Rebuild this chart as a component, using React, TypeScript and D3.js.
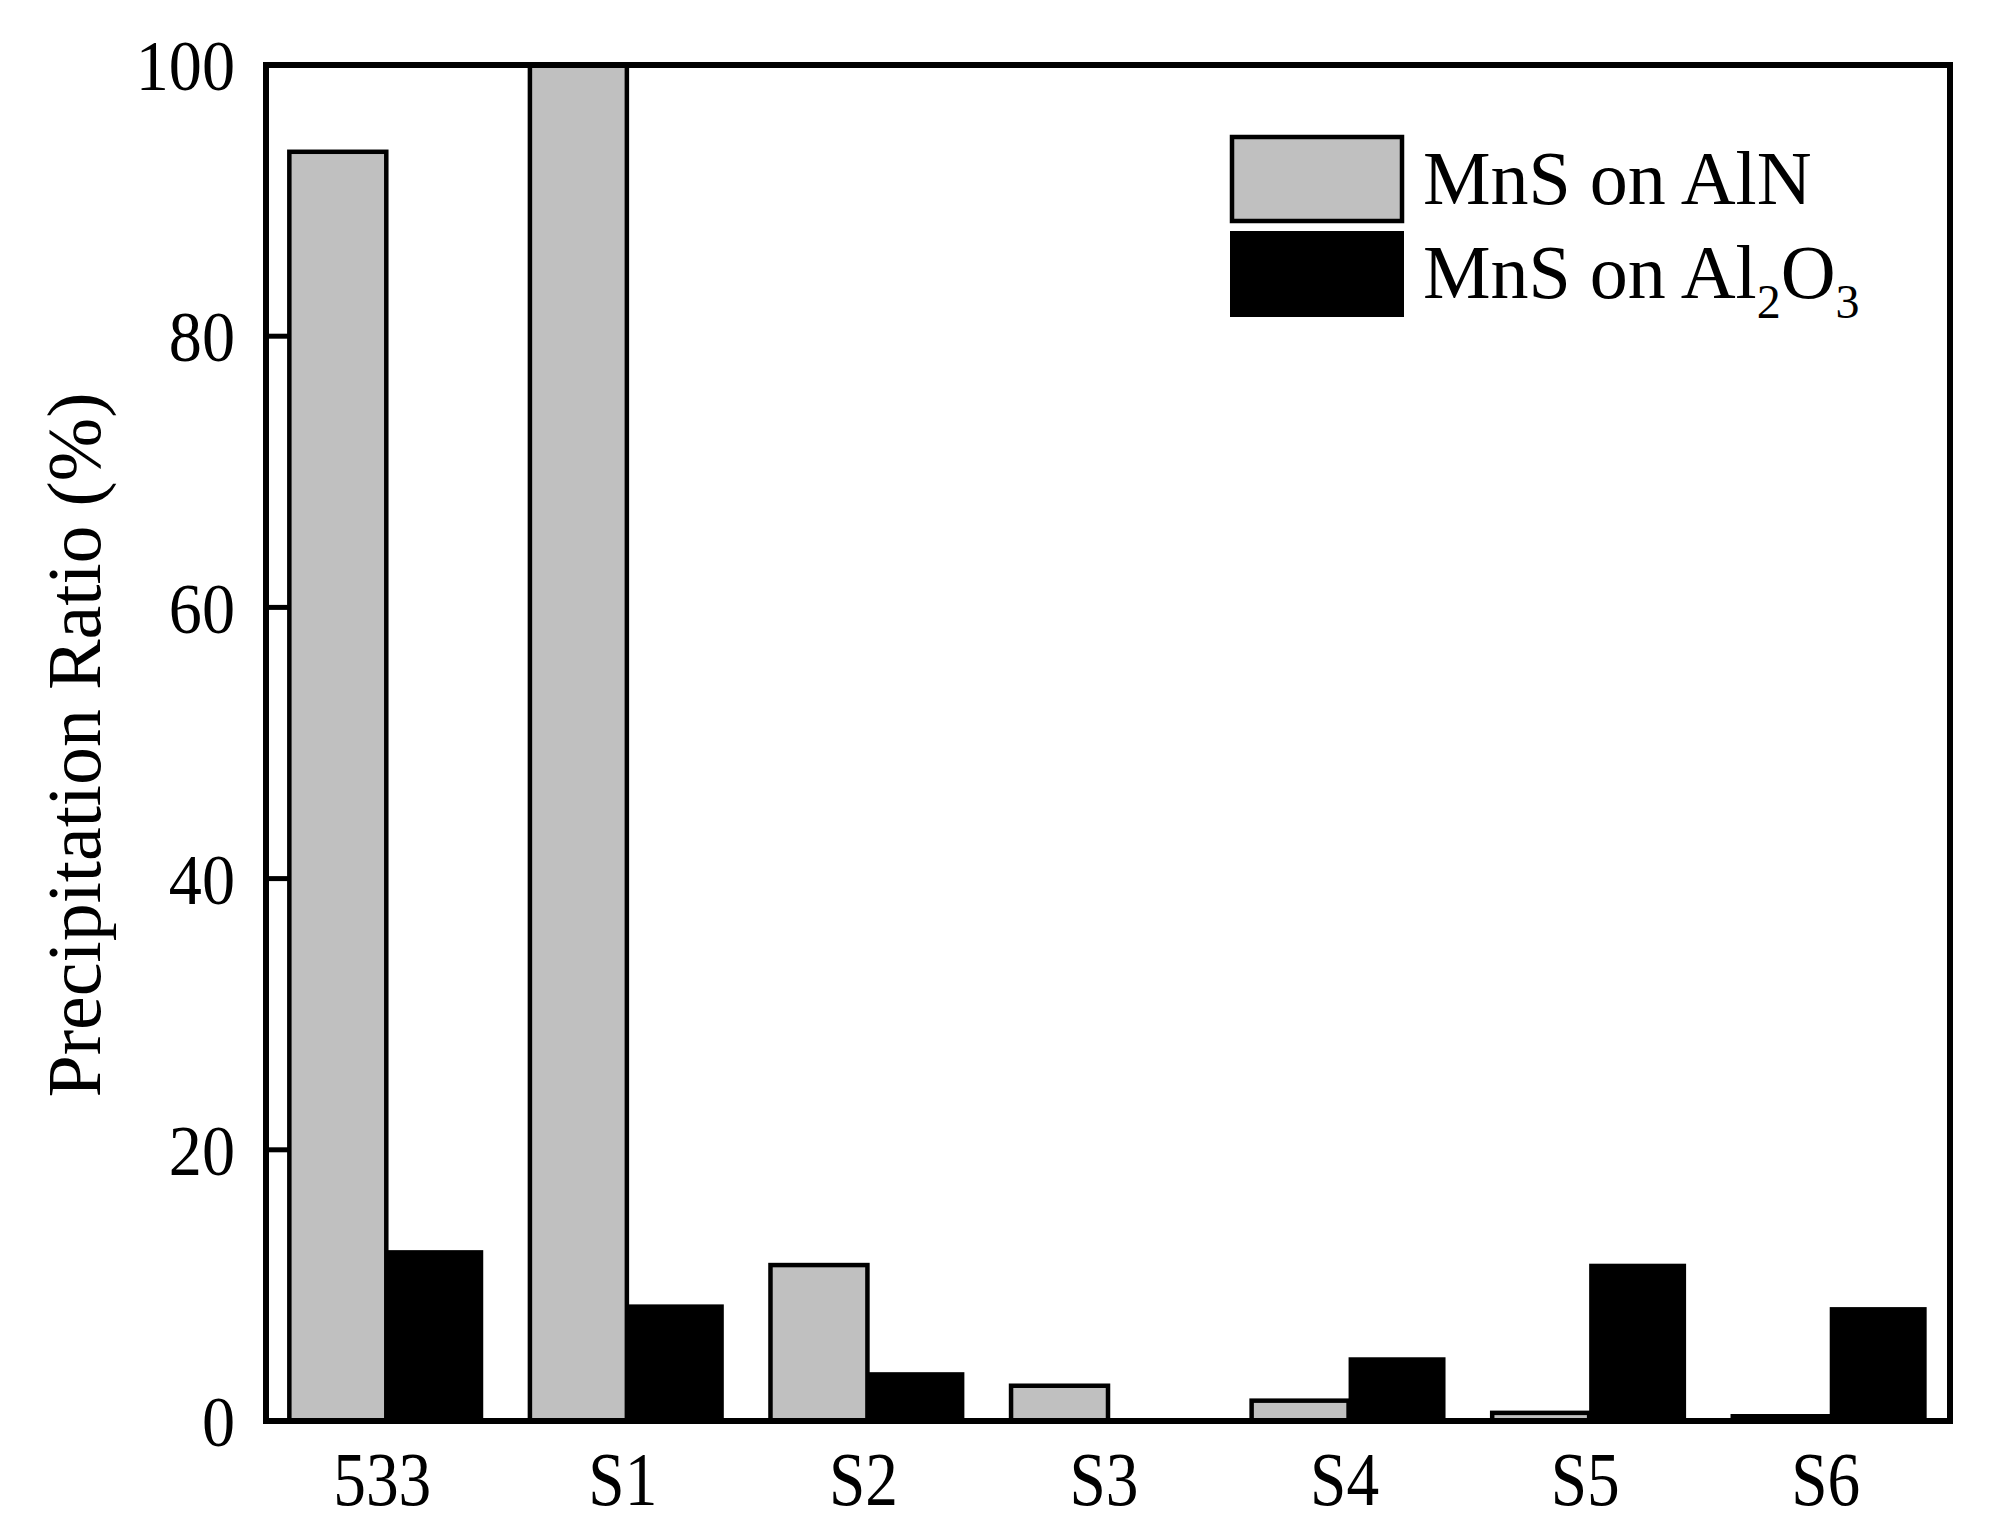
import React from "react";
import * as d3 from "d3";

const categories = ["533", "S1", "S2", "S3", "S4", "S5", "S6"];
const alnValues = [93.6, 100, 11.5, 2.6, 1.5, 0.6, 0.35];
const al2o3Values = [12.6, 8.6, 3.6, 0, 4.7, 11.6, 8.4];
const yTicks = [0, 20, 40, 60, 80, 100];
const seriesNames = ["MnS on AlN", "MnS on Al2O3"];

const W = 2015;
const H = 1525;
const M = { left: 266, right: 2015 - 1950, top: 65, bottom: 1525 - 1421 };
const FONT = "'Liberation Serif', 'Times New Roman', serif";

export default function App() {
  const x = d3
    .scaleBand<string>()
    .domain(categories)
    .range([M.left, W - M.right])
    .paddingInner(0.194)
    .paddingOuter(0.097);
  const x1 = d3
    .scaleBand<string>()
    .domain(seriesNames)
    .range([0, x.bandwidth()]);
  const y = d3.scaleLinear().domain([0, 100]).range([H - M.bottom, M.top]);

  return (
    <div style={{ position: "absolute", left: 0, top: 0 }}>
      <svg width={W} height={H} style={{ display: "block", background: "#fff" }} fontFamily={FONT}>
        <rect x={0} y={0} width={W} height={H} fill="#fff" />
        {/* bars */}
        {categories.map((c, i) => {
          const x0 = x(c)!;
          const g = alnValues[i];
          const b = al2o3Values[i];
          return (
            <g key={c}>
              {b > 0 && (
                <rect
                  x={x0 + x1(seriesNames[1])!}
                  y={y(b)}
                  width={x1.bandwidth()}
                  height={y(0) - y(b)}
                  fill="#000"
                />
              )}
              <rect
                x={x0 + x1(seriesNames[0])!}
                y={y(g)}
                width={x1.bandwidth()}
                height={y(0) - y(g)}
                fill="#c0c0c0"
                stroke="#000"
                strokeWidth={4.5}
              />
            </g>
          );
        })}
        {/* y ticks */}
        {yTicks.map((t) => (
          <g key={t}>
            <line x1={M.left} x2={M.left + 25} y1={y(t)} y2={y(t)} stroke="#000" strokeWidth={5} />
            <text
              transform={`translate(${M.left - 31}, ${y(t)}) scale(0.92, 1)`}
              dy="0.35em"
              textAnchor="end"
              fontSize={72}
              fill="#000"
            >
              {t}
            </text>
          </g>
        ))}
        {/* x labels */}
        {categories.map((c) => (
          <text
            key={c}
            transform={`translate(${x(c)! + x.bandwidth() / 2 - 4}, 1505) scale(0.86, 1)`}
            textAnchor="middle"
            fontSize={76}
            fill="#000"
          >
            {c}
          </text>
        ))}
        {/* frame */}
        <rect
          x={M.left}
          y={M.top}
          width={W - M.left - M.right}
          height={H - M.top - M.bottom}
          fill="none"
          stroke="#000"
          strokeWidth={6}
        />
        {/* y label */}
        <text
          transform={`translate(100, 745) rotate(-90)`}
          textAnchor="middle"
          fontSize={76}
          fill="#000"
        >
          Precipitation Ratio (%)
        </text>
        {/* legend */}
        <rect x={1232} y={137} width={170} height={84} fill="#c0c0c0" stroke="#000" strokeWidth={4.5} />
        <rect x={1230} y={231} width={174} height={86} fill="#000" />
        <text x={1423} y={204} fontSize={76} fill="#000">
          {seriesNames[0]}
        </text>
        <text x={1423} y={298} fontSize={76} fill="#000">
          MnS on Al
          <tspan fontSize={48} dy={20}>2</tspan>
          <tspan dy={-20}>O</tspan>
          <tspan fontSize={48} dy={20}>3</tspan>
        </text>
      </svg>
    </div>
  );
}
